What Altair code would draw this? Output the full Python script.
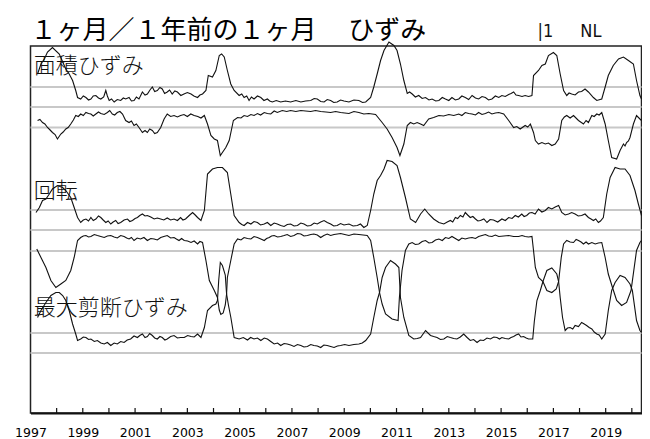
import altair as alt
import pandas as pd

# ---------------- data ----------------
# time in decimal years; level in chart units (0 = top of frame, 367 = bottom)
LABEL_YEARS = list(range(1997, 2020, 2))
TICK_YEARS = list(range(1998, 2021))
GRID_LEVELS = [41, 61, 81.5, 164, 184, 205, 287, 307]

AREA_UP = [[1997.27,28],[1997.40,18],[1997.53,13],[1997.65,6],[1997.84,1.5],[1998.10,8],[1998.35,23],[1998.48,28],[1998.61,34.5],[1998.73,44.5],[1998.80,51.5],[1998.92,53],[1999.02,50],[1999.12,51.5],[1999.22,54],[1999.31,53],[1999.40,50],[1999.50,49.5],[1999.60,52],[1999.69,53],[1999.80,51],[1999.88,44.5],[1999.94,50],[2000.01,54.5],[2000.10,53],[2000.20,56],[2000.32,53.5],[2000.45,54.5],[2000.55,52],[2000.64,53],[2000.77,51.5],[2000.86,55],[2000.96,54.5],[2001.05,51],[2001.15,53],[2001.28,46],[2001.38,49],[2001.47,48],[2001.57,44],[2001.66,41],[2001.75,45.5],[2001.85,44.5],[2001.95,41.5],[2002.04,43],[2002.13,47.5],[2002.23,46],[2002.32,44],[2002.42,48],[2002.52,45],[2002.62,46],[2002.75,49.5],[2002.87,48],[2003.00,46.5],[2003.14,48],[2003.25,50],[2003.39,51.5],[2003.48,49],[2003.58,48],[2003.71,44.5],[2003.80,29.5],[2003.96,31],[2004.09,24.5],[2004.22,9.5],[2004.31,8],[2004.41,11],[2004.53,24.5],[2004.66,38],[2004.79,44.5],[2004.98,49.5],[2005.08,48],[2005.17,51.5],[2005.27,50],[2005.36,54.5],[2005.45,51],[2005.55,53],[2005.68,50],[2005.81,51.5],[2005.93,54.5],[2006.06,53],[2006.15,55],[2006.25,56],[2006.40,54.5],[2006.57,56],[2006.75,55],[2006.95,56],[2007.15,54.5],[2007.34,56],[2007.52,55],[2007.72,54.5],[2007.85,52.5],[2007.97,53],[2008.10,55.5],[2008.23,56],[2008.35,53.5],[2008.48,54.5],[2008.60,56.5],[2008.73,56],[2008.86,54],[2008.99,55],[2009.18,56],[2009.37,54],[2009.56,54.5],[2009.70,56.5],[2009.82,56],[2010.01,51.5],[2010.13,41],[2010.26,28],[2010.39,14.5],[2010.52,4.5],[2010.71,-4],[2010.90,-0.5],[2011.02,4.5],[2011.15,18],[2011.28,34.5],[2011.41,47.5],[2011.50,46],[2011.60,48],[2011.72,51],[2011.85,49.5],[2011.98,52.5],[2012.11,51.5],[2012.24,54],[2012.36,53],[2012.50,55],[2012.62,54.5],[2012.75,51.5],[2012.87,53],[2013.00,54.5],[2013.12,51.5],[2013.25,54],[2013.38,53],[2013.50,50],[2013.63,51.5],[2013.76,53.5],[2013.89,49.5],[2014.02,52],[2014.14,53],[2014.27,50.5],[2014.40,51.5],[2014.52,54],[2014.65,53],[2014.78,50],[2014.91,51.5],[2015.03,49.5],[2015.16,50.5],[2015.29,48.5],[2015.38,47.5],[2015.48,46],[2015.57,49],[2015.67,49.5],[2015.80,50.5],[2015.92,49.5],[2016.05,50.5],[2016.18,49.5],[2016.24,29.5],[2016.43,24.5],[2016.56,19.5],[2016.69,18],[2016.81,9.5],[2017.00,6.5],[2017.13,9.5],[2017.26,28],[2017.39,44.5],[2017.51,49.5],[2017.60,47],[2017.70,48],[2017.83,49],[2017.96,46],[2018.08,45.5],[2018.21,43],[2018.34,46],[2018.53,51.5],[2018.66,54.5],[2018.85,53],[2018.98,41],[2019.10,29.5],[2019.29,19.5],[2019.49,13],[2019.68,11],[2019.87,14.5],[2020.06,18],[2020.18,34.5],[2020.31,49.5],[2020.37,53]]

AREA_DOWN = [[1997.27,74.5],[1997.36,73.5],[1997.46,76.5],[1997.55,78],[1997.65,81.5],[1997.75,84],[1997.84,86.5],[1997.94,88.5],[1998.03,93],[1998.16,88],[1998.25,86],[1998.35,83],[1998.44,81.5],[1998.54,78],[1998.64,74],[1998.73,69.5],[1998.83,70.5],[1998.92,68],[1999.02,69.5],[1999.12,66.5],[1999.22,67.5],[1999.31,68],[1999.40,70],[1999.50,68],[1999.60,66],[1999.69,67.5],[1999.82,68.5],[1999.94,66.5],[2000.03,64.5],[2000.13,68],[2000.22,69],[2000.32,66.5],[2000.42,65.5],[2000.52,68],[2000.64,74.5],[2000.77,76.5],[2000.86,75],[2000.96,79.5],[2001.05,78],[2001.15,81.5],[2001.28,86.5],[2001.38,84.5],[2001.47,86.5],[2001.56,83],[2001.66,84.5],[2001.75,87.5],[2001.85,86.5],[2001.98,81.5],[2002.11,73],[2002.23,68],[2002.36,70.5],[2002.49,69.5],[2002.62,71],[2002.74,69.5],[2002.87,68.5],[2003.00,70.5],[2003.13,68],[2003.26,69.5],[2003.40,70.5],[2003.52,72],[2003.65,69.5],[2003.77,78],[2003.90,89.5],[2004.03,93],[2004.15,94.5],[2004.26,109.5],[2004.34,106.5],[2004.47,101.5],[2004.60,94.5],[2004.76,74.5],[2004.92,71.5],[2005.05,72],[2005.17,69.5],[2005.30,70.5],[2005.43,68.5],[2005.55,69.5],[2005.68,67.5],[2005.80,69],[2005.94,66.5],[2006.06,67.5],[2006.19,68],[2006.32,65],[2006.44,66.5],[2006.63,64.5],[2006.80,65.5],[2006.95,64.5],[2007.15,65.5],[2007.34,64.5],[2007.52,65],[2007.72,65.5],[2007.90,64.5],[2008.10,65.5],[2008.30,66],[2008.48,66.5],[2008.67,65.5],[2008.86,66.5],[2009.02,67],[2009.18,67.5],[2009.37,65.5],[2009.56,66.5],[2009.75,68],[2009.94,67.5],[2010.20,68.5],[2010.45,76.5],[2010.64,83],[2010.83,91.5],[2011.02,101.5],[2011.13,109.5],[2011.28,98],[2011.41,79.5],[2011.53,76.5],[2011.66,78],[2011.79,76.5],[2011.92,78],[2012.04,79.5],[2012.23,73],[2012.42,71.5],[2012.62,69.5],[2012.80,70],[2013.00,68.5],[2013.19,69.5],[2013.38,68],[2013.50,69.5],[2013.63,66.5],[2013.76,67.5],[2013.89,68],[2014.02,69],[2014.14,66.5],[2014.27,68.5],[2014.40,67.5],[2014.52,66],[2014.65,68],[2014.78,67],[2014.91,66.5],[2015.10,68],[2015.29,74.5],[2015.48,81.5],[2015.60,80.5],[2015.73,83],[2015.92,79.5],[2016.02,81],[2016.12,78],[2016.24,86.5],[2016.31,94.5],[2016.43,98],[2016.56,96.5],[2016.69,98],[2016.81,97],[2016.94,99.5],[2017.07,98],[2017.20,93],[2017.32,74.5],[2017.42,71],[2017.51,69.5],[2017.64,72],[2017.77,69.5],[2017.96,74.5],[2018.15,78],[2018.25,74.5],[2018.34,76.5],[2018.47,69.5],[2018.56,70.5],[2018.66,68],[2018.75,69],[2018.85,66.5],[2018.98,78],[2019.10,94.5],[2019.23,111.5],[2019.42,113],[2019.55,104.5],[2019.62,101],[2019.68,98],[2019.74,100],[2019.80,96.5],[2019.87,95],[2019.93,91.5],[2020.06,78],[2020.18,69.5],[2020.31,73],[2020.37,74.5]]

ROTATION = [[1997.21,166.5],[1997.34,161.5],[1997.46,154.5],[1997.59,153],[1997.72,148],[1997.84,143],[1998.03,139.5],[1998.23,141.5],[1998.35,144.5],[1998.54,151.5],[1998.67,161.5],[1998.80,171.5],[1998.92,176.5],[1999.02,174],[1999.12,173],[1999.22,175],[1999.31,171.5],[1999.40,174.5],[1999.50,173],[1999.60,170],[1999.69,171.5],[1999.78,174],[1999.88,176.5],[1999.97,175],[2000.07,178],[2000.16,176],[2000.26,174.5],[2000.35,177.5],[2000.45,176.5],[2000.58,174],[2000.71,173],[2000.80,175.5],[2000.90,174.5],[2001.00,172.5],[2001.09,171.5],[2001.18,169.5],[2001.28,168],[2001.38,170],[2001.47,169.5],[2001.60,171],[2001.73,173],[2001.85,172],[2001.98,173],[2002.10,174],[2002.23,172],[2002.36,174],[2002.49,173],[2002.62,174.5],[2002.74,171.5],[2002.83,174],[2002.93,173],[2003.07,169.5],[2003.20,166.5],[2003.30,169],[2003.39,171.5],[2003.52,174.5],[2003.65,164.5],[2003.77,128],[2003.96,123],[2004.15,121.5],[2004.34,121.5],[2004.53,126.5],[2004.66,148],[2004.79,169.5],[2004.98,176.5],[2005.08,178.5],[2005.17,179.5],[2005.30,176.5],[2005.43,178],[2005.55,175.5],[2005.68,176.5],[2005.80,179],[2005.94,178],[2006.06,176.5],[2006.19,179.5],[2006.32,177],[2006.44,178],[2006.57,179.5],[2006.70,180.5],[2006.82,178.5],[2006.95,178],[2007.08,180],[2007.21,179.5],[2007.34,177],[2007.46,178],[2007.59,180],[2007.72,179.5],[2007.85,177],[2007.97,178],[2008.10,176],[2008.23,174.5],[2008.35,176.5],[2008.48,178],[2008.60,180],[2008.73,179.5],[2008.86,177.5],[2008.99,179],[2009.18,178],[2009.34,180],[2009.50,179.5],[2009.62,178],[2009.75,181.5],[2009.88,179.5],[2010.01,164.5],[2010.13,148],[2010.26,134.5],[2010.39,129.5],[2010.52,123],[2010.64,114.5],[2010.83,115.5],[2011.02,119.5],[2011.15,131.5],[2011.34,151.5],[2011.53,173],[2011.73,176.5],[2011.92,168],[2012.08,163],[2012.23,168],[2012.42,173],[2012.62,176.5],[2012.81,178],[2012.94,176],[2013.06,174.5],[2013.15,176],[2013.25,171.5],[2013.34,172.5],[2013.44,169.5],[2013.54,171],[2013.63,166.5],[2013.72,169],[2013.82,171.5],[2013.92,170.5],[2014.02,173],[2014.11,175],[2014.21,174.5],[2014.34,173],[2014.46,176.5],[2014.58,173.5],[2014.71,174],[2014.87,176],[2015.03,173],[2015.16,174.5],[2015.29,171.5],[2015.42,172.5],[2015.54,169.5],[2015.66,171],[2015.79,168],[2015.88,170.5],[2015.98,169.5],[2016.08,167],[2016.18,166.5],[2016.30,168],[2016.43,163],[2016.56,166],[2016.69,164.5],[2016.81,161.5],[2016.94,163],[2017.07,161],[2017.20,159.5],[2017.32,166.5],[2017.45,169],[2017.58,168],[2017.70,166.5],[2017.83,168],[2017.95,170],[2018.08,169.5],[2018.21,168],[2018.34,171.5],[2018.44,173],[2018.53,174.5],[2018.62,173],[2018.72,176.5],[2018.80,175],[2018.91,171.5],[2019.04,148],[2019.17,131.5],[2019.36,121.5],[2019.55,123],[2019.74,123],[2019.93,129.5],[2020.12,144.5],[2020.25,158],[2020.37,169.5]]

SHEAR_A = [[1997.24,203],[1997.40,211.5],[1997.59,221.5],[1997.78,234.5],[1997.97,241.5],[1998.16,238],[1998.35,234.5],[1998.54,224.5],[1998.67,211.5],[1998.80,194.5],[1998.92,191.5],[1999.02,190],[1999.12,189.5],[1999.22,191],[1999.31,190.5],[1999.44,188.5],[1999.56,189.5],[1999.69,190.5],[1999.82,191.5],[1999.94,190],[2000.07,189.5],[2000.20,191],[2000.32,192],[2000.45,189.5],[2000.58,190.5],[2000.68,192],[2000.77,193],[2000.86,191.5],[2000.96,194.5],[2001.08,192],[2001.21,193],[2001.34,191.5],[2001.47,194.5],[2001.60,192.5],[2001.73,193],[2001.85,194],[2001.98,191.5],[2002.10,190.5],[2002.23,189.5],[2002.36,192],[2002.49,191.5],[2002.58,193],[2002.68,194.5],[2002.78,192.5],[2002.88,194.5],[2003.01,195],[2003.14,196.5],[2003.26,195],[2003.39,198],[2003.48,195.5],[2003.58,196.5],[2003.71,214.5],[2003.84,234.5],[2004.03,244.5],[2004.15,251.5],[2004.22,264],[2004.28,268.5],[2004.37,267],[2004.45,259],[2004.50,248],[2004.53,231.5],[2004.68,212],[2004.79,198],[2004.92,193],[2005.05,194],[2005.17,191.5],[2005.30,192.5],[2005.43,193],[2005.55,190.5],[2005.68,191.5],[2005.81,193],[2005.94,194.5],[2006.03,192.5],[2006.13,191.5],[2006.22,190],[2006.32,189.5],[2006.45,191],[2006.57,190.5],[2006.70,189.5],[2006.82,188.5],[2006.95,190.5],[2007.08,189.5],[2007.21,187.5],[2007.34,188],[2007.46,190],[2007.59,189.5],[2007.72,188.5],[2007.84,188],[2007.97,189],[2008.10,191.5],[2008.22,189.5],[2008.35,188],[2008.48,189.5],[2008.61,188.5],[2008.74,188],[2008.86,187.5],[2009.02,188.5],[2009.18,189.5],[2009.37,188],[2009.56,188.5],[2009.72,189],[2009.88,189.5],[2010.01,194.5],[2010.13,211.5],[2010.26,231.5],[2010.35,246.5],[2010.45,258],[2010.58,268],[2010.83,273],[2011.06,274.5],[2011.11,251.5],[2011.21,224.5],[2011.34,204.5],[2011.47,198],[2011.60,196.5],[2011.72,198.5],[2011.85,198],[2011.98,195.5],[2012.11,194.5],[2012.24,197],[2012.36,196.5],[2012.49,194],[2012.62,193],[2012.75,194.5],[2012.87,191.5],[2013.00,192.5],[2013.12,190.5],[2013.25,192.5],[2013.38,194.5],[2013.50,192],[2013.63,193],[2013.76,192],[2013.89,191.5],[2014.02,192.5],[2014.14,190.5],[2014.27,189.5],[2014.40,188.5],[2014.52,190],[2014.65,190.5],[2014.78,189],[2014.91,190.5],[2015.10,190],[2015.29,189.5],[2015.48,190.5],[2015.67,190.5],[2015.80,189.5],[2015.92,190.5],[2016.05,191],[2016.18,190.5],[2016.24,204.5],[2016.31,221.5],[2016.43,231.5],[2016.60,235.5],[2016.75,244.5],[2016.94,246.5],[2017.11,243],[2017.20,235.5],[2017.30,211.5],[2017.39,198],[2017.51,194.5],[2017.64,196],[2017.77,196.5],[2017.87,193.5],[2017.96,194.5],[2018.06,196],[2018.15,198],[2018.25,196],[2018.34,198],[2018.47,196.5],[2018.60,198],[2018.72,197],[2018.85,196.5],[2018.98,211.5],[2019.10,228],[2019.26,241.5],[2019.42,254.5],[2019.61,259.5],[2019.80,256.5],[2019.97,244.5],[2020.18,204.5],[2020.31,196.5],[2020.37,194.5]]

SHEAR_B = [[1997.27,271.5],[1997.40,264.5],[1997.59,256.5],[1997.78,249.5],[1997.97,246.5],[1998.10,246.5],[1998.23,249.5],[1998.35,254.5],[1998.48,264.5],[1998.61,278],[1998.73,288],[1998.80,294.5],[1998.92,293],[1999.02,291],[1999.12,291.5],[1999.22,293.5],[1999.31,293],[1999.44,295.5],[1999.56,294.5],[1999.69,297],[1999.82,298],[1999.94,296.5],[2000.07,299.5],[2000.20,297],[2000.32,298],[2000.45,295.5],[2000.58,296.5],[2000.70,294],[2000.83,293],[2000.96,290],[2001.09,291.5],[2001.18,289.5],[2001.28,288],[2001.38,291.5],[2001.47,290.5],[2001.56,287.5],[2001.66,289.5],[2001.75,292],[2001.85,293],[2001.95,290.5],[2002.04,291.5],[2002.14,294],[2002.23,293],[2002.36,290.5],[2002.49,289.5],[2002.62,292],[2002.74,291.5],[2002.88,291.5],[2003.01,289.5],[2003.14,290.5],[2003.26,291],[2003.39,288],[2003.52,291.5],[2003.65,281.5],[2003.77,264.5],[2003.96,259.5],[2004.09,258],[2004.15,254.5],[2004.20,234],[2004.26,216.5],[2004.34,219.5],[2004.45,229],[2004.50,248],[2004.57,259],[2004.66,271],[2004.79,291.5],[2004.98,293],[2005.14,291.5],[2005.30,294],[2005.42,291.5],[2005.55,293],[2005.68,292],[2005.81,294.5],[2005.94,292],[2006.06,293],[2006.19,295.5],[2006.32,298],[2006.45,297],[2006.57,299.5],[2006.70,297.5],[2006.82,298],[2006.95,299],[2007.08,300.5],[2007.21,298.5],[2007.34,299.5],[2007.46,301],[2007.59,300.5],[2007.72,298.5],[2007.84,299.5],[2007.97,300],[2008.10,301.5],[2008.22,299],[2008.35,299.5],[2008.48,300.5],[2008.61,301.5],[2008.74,300],[2008.86,299.5],[2009.02,298.5],[2009.18,299.5],[2009.37,298.5],[2009.56,298],[2009.69,297],[2009.82,294.5],[2010.01,288],[2010.13,271.5],[2010.26,254.5],[2010.35,246.5],[2010.45,231.5],[2010.58,221.5],[2010.77,214.5],[2010.96,218],[2011.09,221.5],[2011.15,251.5],[2011.28,271.5],[2011.47,289.5],[2011.66,293],[2011.79,292.5],[2011.92,291.5],[2012.11,284.5],[2012.30,289.5],[2012.42,290.5],[2012.55,291.5],[2012.68,293.5],[2012.81,293],[2012.94,290.5],[2013.06,291.5],[2013.19,292.5],[2013.31,293],[2013.44,291],[2013.57,288],[2013.70,291.5],[2013.82,294.5],[2013.95,293.5],[2014.08,296.5],[2014.20,294],[2014.33,294.5],[2014.46,292],[2014.59,293],[2014.72,291],[2014.84,291.5],[2014.94,293],[2015.03,291.5],[2015.16,292.5],[2015.29,293],[2015.38,291.5],[2015.48,290.5],[2015.57,289],[2015.67,288],[2015.76,291],[2015.86,290.5],[2015.96,292],[2016.05,293],[2016.21,293],[2016.27,275.5],[2016.37,254.5],[2016.50,244.5],[2016.60,235.5],[2016.75,224.5],[2016.94,222],[2017.13,228],[2017.20,235.5],[2017.26,251.5],[2017.35,271.5],[2017.45,284.5],[2017.54,282],[2017.64,281.5],[2017.74,283],[2017.83,279.5],[2017.96,280.5],[2018.08,276.5],[2018.18,278],[2018.27,279.5],[2018.37,281.5],[2018.47,283],[2018.56,286],[2018.66,288],[2018.75,289],[2018.85,293],[2018.98,288],[2019.10,264.5],[2019.23,244.5],[2019.36,236.5],[2019.55,229.5],[2019.74,231.5],[2019.93,238],[2020.02,244.5],[2020.18,274.5],[2020.31,284.5],[2020.37,286.5]]

SERIES = {
    "area_up": AREA_UP,
    "area_down": AREA_DOWN,
    "rotation": ROTATION,
    "shear_a": SHEAR_A,
    "shear_b": SHEAR_B,
}

PANEL_LABELS = ["面積ひずみ", "回転", "最大剪断ひずみ"]
PANEL_LABEL_T = [1997.12, 1997.12, 1997.12]
PANEL_LABEL_V = [20, 145, 262]

TITLE = ["１ヶ月／１年前の１ヶ月　 ひずみ"]
TITLE_T = [1997.0]
TITLE_V = [-7.5]

CORNER_TEXT = ["|1", "NL"]
CORNER_T = [2016.39, 2018.03]
CORNER_V = [-9.5, -9.5]

# ---------------- build tables ----------------
rows = []
for name, pts in SERIES.items():
    for i, (t, v) in enumerate(pts):
        rows.append({"series": name, "t": t, "v": v, "i": i})
lines_df = pd.DataFrame(rows)
grid_df = pd.DataFrame({"g": GRID_LEVELS})
tick_df = pd.DataFrame({"t": TICK_YEARS})
label_df = pd.DataFrame({"text": PANEL_LABELS, "t": PANEL_LABEL_T, "v": PANEL_LABEL_V})
title_df = pd.DataFrame({"text": TITLE, "t": TITLE_T, "v": TITLE_V})
corner_df = pd.DataFrame({"text": CORNER_TEXT, "t": CORNER_T, "v": CORNER_V})

W, H = 611, 367
xscale = alt.Scale(domain=[1997, 2020.37], nice=False, zero=False)
yscale = alt.Scale(domain=[0, 367], nice=False, zero=False, reverse=True)

xaxis = alt.Axis(
    values=LABEL_YEARS, format="d", ticks=False, tickSize=0, grid=False,
    labelPadding=23, labelBaseline="alphabetic", labelFont="DejaVu Sans",
    labelFontSize=12.5, labelColor="#000", labelFlush=False, labelOverlap=False,
    domain=True, domainColor="#111", domainWidth=2, title=None,
)

grid = alt.Chart(grid_df).mark_rule(color="#c8c8c8", strokeWidth=1.8).encode(
    y=alt.Y("g:Q", scale=yscale, axis=None)
)

lines = alt.Chart(lines_df).mark_line(color="#111", strokeWidth=1.1).encode(
    x=alt.X("t:Q", scale=xscale, axis=xaxis),
    y=alt.Y("v:Q", scale=yscale, axis=None),
    detail="series:N",
    order="i:Q",
)

ticks = alt.Chart(tick_df).mark_rule(color="#111", strokeWidth=1.2).encode(
    x=alt.X("t:Q", scale=xscale),
    y=alt.value(H),
    y2=alt.value(H - 5),
)

labels = alt.Chart(label_df).mark_text(
    font="Noto Sans CJK JP", fontSize=22, fontWeight=300, align="left",
    baseline="middle", color="#111"
).encode(
    x=alt.X("t:Q", scale=xscale),
    y=alt.Y("v:Q", scale=yscale, axis=None),
    text="text:N",
)

title = alt.Chart(title_df).mark_text(
    font="Noto Sans CJK JP", fontSize=26, fontWeight="normal", align="left",
    baseline="alphabetic", color="#000"
).encode(
    x=alt.X("t:Q", scale=xscale),
    y=alt.Y("v:Q", scale=yscale, axis=None),
    text="text:N",
)

corner = alt.Chart(corner_df).mark_text(
    font="Liberation Sans Narrow, DejaVu Sans Condensed, Liberation Sans",
    fontSize=18, align="left", baseline="alphabetic", color="#111"
).encode(
    x=alt.X("t:Q", scale=xscale),
    y=alt.Y("v:Q", scale=yscale, axis=None),
    text="text:N",
)

chart = alt.layer(grid, lines, ticks, labels, title, corner).properties(
    width=W,
    height=H,
    autosize=alt.AutoSizeParams(type="none"),
    padding={"left": 22.5, "top": 38, "right": 0.5, "bottom": 26},
).configure_view(stroke="#222", strokeWidth=1.5)

chart.save("out.html", embed_options={"renderer": "svg", "actions": False})
